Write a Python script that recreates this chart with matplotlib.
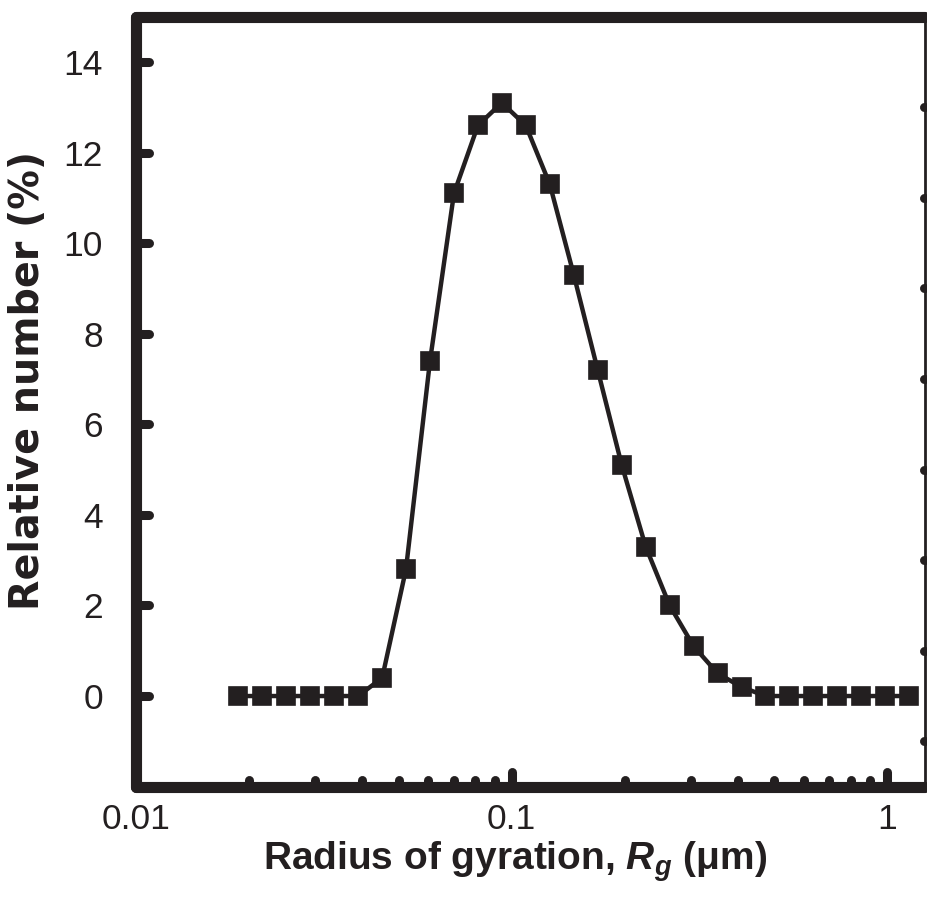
import matplotlib
matplotlib.use('Agg')
import matplotlib.pyplot as plt
from matplotlib.markers import MarkerStyle
from matplotlib.ticker import FixedLocator, NullFormatter

# values
radius_um = [0.0187, 0.0217, 0.0251, 0.0291, 0.0337, 0.0390, 0.0452, 0.0523,
             0.0606, 0.0702, 0.0813, 0.0941, 0.1090, 0.1263, 0.1463, 0.1694,
             0.1963, 0.2273, 0.2633, 0.3050, 0.3532, 0.4091, 0.4738, 0.5488,
             0.6356, 0.7362, 0.8527, 0.9876, 1.144]
rel_number = [0, 0, 0, 0, 0, 0, 0.4, 2.8, 7.4, 11.1, 12.6, 13.1, 12.6, 11.3,
              9.3, 7.2, 5.1, 3.3, 2.0, 1.1, 0.5, 0.2, 0, 0, 0, 0, 0, 0, 0]

xticks = [0.01, 0.1, 1]
xtick_labels = ['0.01', '0.1', '1']
xminor = [0.02, 0.03, 0.04, 0.05, 0.06, 0.07, 0.08, 0.09,
          0.2, 0.3, 0.4, 0.5, 0.6, 0.7, 0.8, 0.9]
yticks = [0, 2, 4, 6, 8, 10, 12, 14]
yminor = [-1, 1, 3, 5, 7, 9, 11, 13]

INK = '#231f20'

plt.rcParams['mathtext.fontset'] = 'custom'
plt.rcParams['mathtext.rm'] = 'Liberation Sans:bold'
plt.rcParams['mathtext.bfit'] = 'Liberation Sans:bold:italic'
plt.rcParams['mathtext.it'] = 'Liberation Sans:bold:italic'

fig = plt.figure(figsize=(9.27, 9.09), dpi=100)
ax = fig.add_axes([136.1 / 927, 1 - 786.6 / 909, 788.4 / 927, 769.9 / 909])

ax.plot(radius_um, rel_number, '-s', color=INK, lw=3.2, ms=12.5,
        mec=INK, mew=1.2, solid_joinstyle='round')

ax.set_xscale('log')
ax.set_xlim(0.01, 1.256)
ax.set_ylim(-2, 15)

ax.xaxis.set_major_locator(FixedLocator(xticks))
ax.set_xticklabels(xtick_labels)
ax.xaxis.set_minor_locator(FixedLocator(xminor))
ax.xaxis.set_minor_formatter(NullFormatter())
ax.yaxis.set_major_locator(FixedLocator(yticks))
ax.yaxis.set_minor_locator(FixedLocator(yminor))

for side in ['left', 'bottom', 'top']:
    ax.spines[side].set_linewidth(8)
    ax.spines[side].set_capstyle('round')
ax.spines['right'].set_linewidth(2)
for sp in ax.spines.values():
    sp.set_color(INK)

tick_font = ['Liberation Sans Narrow', 'Liberation Sans']
ax.tick_params(axis='both', which='both', direction='in', colors=INK,
               top=False, labelsize=25.5)
ax.tick_params(axis='x', which='major', length=11, width=6.5, pad=12)
ax.tick_params(axis='x', which='minor', length=5, width=6.5)
ax.tick_params(axis='y', which='major', length=9, width=6.5, pad=24,
               left=True, right=False)
ax.tick_params(axis='y', which='minor', length=1, width=6.5,
               left=False, right=True)
for lab in ax.get_xticklabels() + ax.get_yticklabels():
    lab.set_family(tick_font)

ax.set_xlabel(r'Radius of gyration, $\mathbfit{R}_{\mathbfit{g}}$ (μm)',
              fontsize=28, fontweight='bold', family='Liberation Sans', color=INK)
ax.xaxis.set_label_coords(0.481, -0.069)
ax.set_ylabel('Relative number (%)', fontsize=28.5, fontweight='bold',
              family='DejaVu Sans', color=INK)
ax.yaxis.set_label_coords(-0.112, 0.528)

# round the tick ends like the original
fig.canvas.draw()
for axis in [ax.xaxis, ax.yaxis]:
    for t in axis.get_major_ticks() + axis.get_minor_ticks():
        for ln in [t.tick1line, t.tick2line]:
            ln.set_marker(MarkerStyle(ln.get_marker(), capstyle='round'))

fig.savefig('out.png', dpi=100)
